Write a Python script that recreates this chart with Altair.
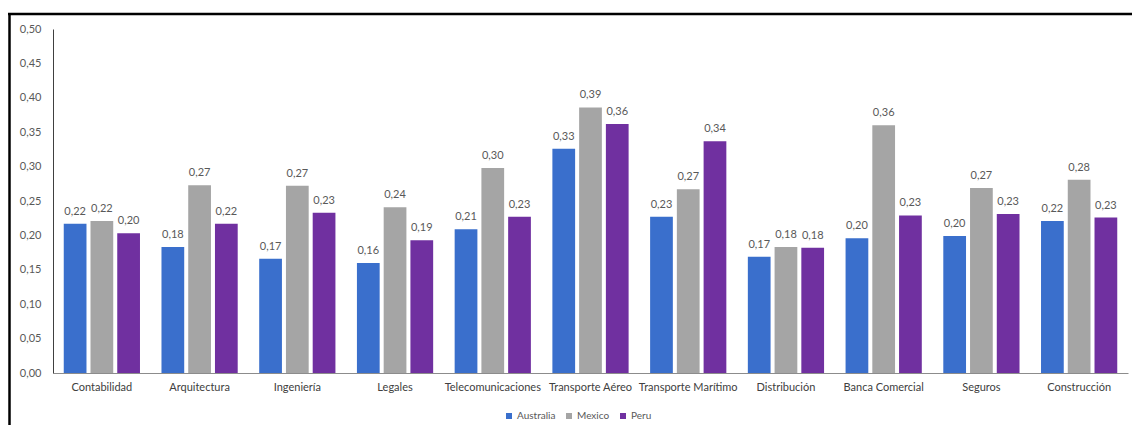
import altair as alt
import pandas as pd

categories = ["Contabilidad", "Arquitectura", "Ingeniería", "Legales", "Telecomunicaciones",
              "Transporte Aéreo", "Transporte Marítimo", "Distribución", "Banca Comercial",
              "Seguros", "Construcción"]
series = ["Australia", "Mexico", "Peru"]
australia = [0.217, 0.183, 0.166, 0.160, 0.209, 0.326, 0.227, 0.169, 0.196, 0.199, 0.221]
mexico = [0.221, 0.273, 0.272, 0.241, 0.298, 0.386, 0.267, 0.183, 0.360, 0.269, 0.281]
peru = [0.203, 0.217, 0.233, 0.193, 0.227, 0.362, 0.337, 0.182, 0.229, 0.231, 0.226]
colors = ["#3A6FCC", "#A5A5A5", "#7030A0"]
y_ticks = [0.0, 0.05, 0.10, 0.15, 0.20, 0.25, 0.30, 0.35, 0.40, 0.45, 0.50]

rows = []
for name, vals in zip(series, [australia, mexico, peru]):
    for c, v in zip(categories, vals):
        rows.append({"Sector": c, "Pais": name, "Valor": v})
df = pd.DataFrame(rows)

FONT = "Lato"

y_axis = alt.Axis(title=None, values=y_ticks, grid=False, ticks=False,
                  domainColor="#404040", labelColor="#595959", labelFontSize=11,
                  labelPadding=12, labelFont=FONT, labelOverlap=False,
                  labelExpr="replace(format(datum.value, '.2f'), '.', ',')")

base = alt.Chart(df).encode(
    x=alt.X("Sector:N", sort=categories,
            scale=alt.Scale(paddingInner=0.22, paddingOuter=0.11),
            axis=alt.Axis(title=None, labelAngle=0, ticks=False, domainColor="#8C8C8C",
                          labelColor="#404040", labelFontSize=11, labelPadding=8,
                          labelFont=FONT)),
    xOffset=alt.XOffset("Pais:N", sort=series, scale=alt.Scale(paddingInner=0.15, paddingOuter=0)),
    y=alt.Y("Valor:Q", scale=alt.Scale(domain=[0, 0.5], nice=False), axis=y_axis),
)

bars = base.mark_bar().encode(
    color=alt.Color("Pais:N", sort=series,
                    scale=alt.Scale(domain=series, range=colors),
                    legend=alt.Legend(title=None, orient="none", legendX=451, legendY=382,
                                      direction="horizontal", symbolType="square",
                                      symbolSize=36, labelFontSize=10, labelColor="#595959",
                                      labelFont=FONT, columnPadding=8, labelOffset=3,
                                      symbolStrokeWidth=0)),
)

labels = base.mark_text(baseline="alphabetic", dy=-9, fontSize=11, color="#595959", font=FONT).encode(
    text="lbl:N",
).transform_calculate(lbl="replace(format(datum.Valor, '.2f'), '.', ',')")

frame_df = pd.DataFrame({"k": [0]})
top_line = alt.Chart(frame_df).mark_rule(color="black", strokeWidth=2.5).encode(
    x=alt.value(-45), x2=alt.value(1090), y=alt.value(-15))
left_line = alt.Chart(frame_df).mark_rule(color="black", strokeWidth=2.5).encode(
    x=alt.value(-43.5), y=alt.value(-16), y2=alt.value(400))

chart = alt.layer(bars, labels, top_line, left_line).properties(
    width=1075, height=344,
    autosize=alt.AutoSizeParams(type="none"),
    padding={"left": 53, "top": 29, "right": 4, "bottom": 52},
    background="white",
).configure_view(stroke=None)

chart.save("out.html", embed_options={"renderer": "svg", "actions": False})
